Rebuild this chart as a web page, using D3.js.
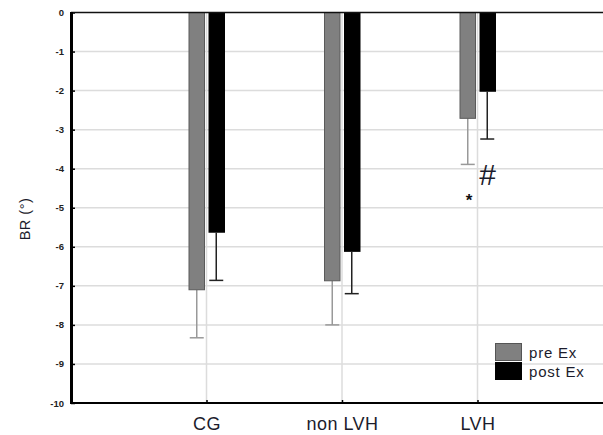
<!DOCTYPE html>
<meta charset="utf-8">
<style>
body { margin: 0; background: #fff; }
svg { display: block; font-family: "Liberation Sans", Arial, sans-serif; }
.yax text { font-size: 9.5px; font-weight: bold; fill: #222; }
.cat text { font-size: 18px; fill: #1c1c2c; letter-spacing: 0.5px; }
</style>
<body>
<svg width="603" height="435"></svg>
<script src="https://cdn.jsdelivr.net/npm/d3@7"></script>
<script>
// data
var groups = ["CG", "non LVH", "LVH"];
var preMean = [-7.1, -6.87, -2.71];
var preLow = [-8.33, -8.0, -3.89];
var postMean = [-5.64, -6.13, -2.03];
var postLow = [-6.86, -7.2, -3.24];
var yTicks = [0, -1, -2, -3, -4, -5, -6, -7, -8, -9, -10];
var series = ["pre Ex", "post Ex"];

var svg = d3.select("svg"),
    pLeft = 71, pTop = 12.5, pBottom = 403, pRight = 613;

var x = d3.scalePoint().domain(groups).range([pLeft, pRight]).padding(1);
var y = d3.scaleLinear().domain([-10, 0]).range([pBottom, pTop]);

// grid
svg.append("g").selectAll("line").data(yTicks.slice(1, -1)).enter().append("line")
  .attr("x1", pLeft).attr("x2", 603)
  .attr("y1", function(d) { return y(d); }).attr("y2", function(d) { return y(d); })
  .attr("stroke", "#dcdcdc").attr("stroke-width", 1.5);
svg.append("g").selectAll("line").data(groups).enter().append("line")
  .attr("x1", function(d) { return x(d); }).attr("x2", function(d) { return x(d); })
  .attr("y1", pTop).attr("y2", pBottom)
  .attr("stroke", "#dcdcdc").attr("stroke-width", 1.5);

var bw = 15.5;
var rows = groups.map(function(g, i) {
  return {g: g, pre: preMean[i], preL: preLow[i], post: postMean[i], postL: postLow[i]};
});

// error bars (downwards only)
function whisker(off, meanKey, lowKey, col) {
  var e = svg.append("g").selectAll("g").data(rows).enter().append("g");
  e.append("line")
    .attr("x1", function(d) { return x(d.g) + off; }).attr("x2", function(d) { return x(d.g) + off; })
    .attr("y1", function(d) { return y(d[meanKey]); }).attr("y2", function(d) { return y(d[lowKey]); })
    .attr("stroke", col).attr("stroke-width", 1.5);
  e.append("line")
    .attr("x1", function(d) { return x(d.g) + off - 7; }).attr("x2", function(d) { return x(d.g) + off + 7; })
    .attr("y1", function(d) { return y(d[lowKey]); }).attr("y2", function(d) { return y(d[lowKey]); })
    .attr("stroke", col).attr("stroke-width", 1.5);
}
whisker(-2 - bw / 2, "pre", "preL", "#999");
whisker(2 + bw / 2, "post", "postL", "#222");

svg.append("g").selectAll("rect").data(rows).enter().append("rect")
  .attr("x", function(d) { return x(d.g) - 2 - bw; })
  .attr("y", y(0))
  .attr("width", bw)
  .attr("height", function(d) { return y(d.pre) - y(0); })
  .attr("fill", "#808080").attr("stroke", "#5a5a5a").attr("stroke-width", 1);
svg.append("g").selectAll("rect").data(rows).enter().append("rect")
  .attr("x", function(d) { return x(d.g) + 2; })
  .attr("y", y(0))
  .attr("width", bw + 1)
  .attr("height", function(d) { return y(d.post) - y(0); })
  .attr("fill", "#000");

// axes
var ya = svg.append("g").attr("class", "yax").attr("transform", "translate(" + pLeft + ",0)")
  .call(d3.axisLeft(y).tickValues(yTicks).tickSize(-4).tickPadding(7)
    .tickFormat(function(d) { return String(d); }));
ya.select(".domain").remove();
ya.selectAll(".tick line").attr("stroke", "#000").attr("stroke-width", 1.5);
ya.selectAll(".tick text").attr("font-family", null).attr("font-size", null);

var xa = svg.append("g").attr("class", "cat").attr("transform", "translate(0," + pBottom + ")")
  .call(d3.axisBottom(x).tickSize(-3).tickPadding(14));
xa.select(".domain").remove();
xa.selectAll(".tick line").attr("stroke", "#000").attr("stroke-width", 1.5);
xa.selectAll(".tick text").attr("font-family", null).attr("font-size", null);

svg.append("line").attr("x1", pLeft).attr("x2", 603).attr("y1", pTop).attr("y2", pTop)
  .attr("stroke", "#111").attr("stroke-width", 1.5);
svg.append("line").attr("x1", pLeft).attr("x2", 603).attr("y1", pBottom).attr("y2", pBottom)
  .attr("stroke", "#000").attr("stroke-width", 2);
svg.append("line").attr("x1", pLeft + 0.5).attr("x2", pLeft + 0.5).attr("y1", pTop - 0.5).attr("y2", pBottom + 1)
  .attr("stroke", "#000").attr("stroke-width", 3);

// y label
svg.append("text").attr("transform", "translate(30,219) rotate(-90)")
  .attr("text-anchor", "middle").attr("font-size", 14.5).attr("letter-spacing", 0.5)
  .attr("fill", "#1c1c2c")
  .text("BR (°)");

// significance marks on LVH
var lx = x("LVH");
svg.append("text").attr("x", lx - 8.5).attr("y", 205.5).attr("text-anchor", "middle")
  .attr("font-size", 17).attr("font-weight", "bold").attr("fill", "#111").text("*");
svg.append("text").attr("x", lx + 10).attr("y", 185).attr("text-anchor", "middle")
  .attr("font-size", 30).attr("fill", "#1c1c2c").text("#");

// legend
var lg = svg.append("g").attr("transform", "translate(495,343)");
lg.selectAll("rect").data(series).enter().append("rect")
  .attr("x", 0.5).attr("y", function(d, i) { return i * 19 + 0.5; })
  .attr("width", 26).attr("height", 17)
  .attr("fill", function(d, i) { return i ? "#000" : "#808080"; })
  .attr("stroke", function(d, i) { return i ? "#000" : "#555"; });
lg.selectAll("text").data(series).enter().append("text")
  .attr("x", 34).attr("y", function(d, i) { return 15 + i * 19; })
  .attr("font-size", 15).attr("letter-spacing", 0.8).attr("fill", "#1c1c2c")
  .text(function(d) { return d; });
</script>
</body>
